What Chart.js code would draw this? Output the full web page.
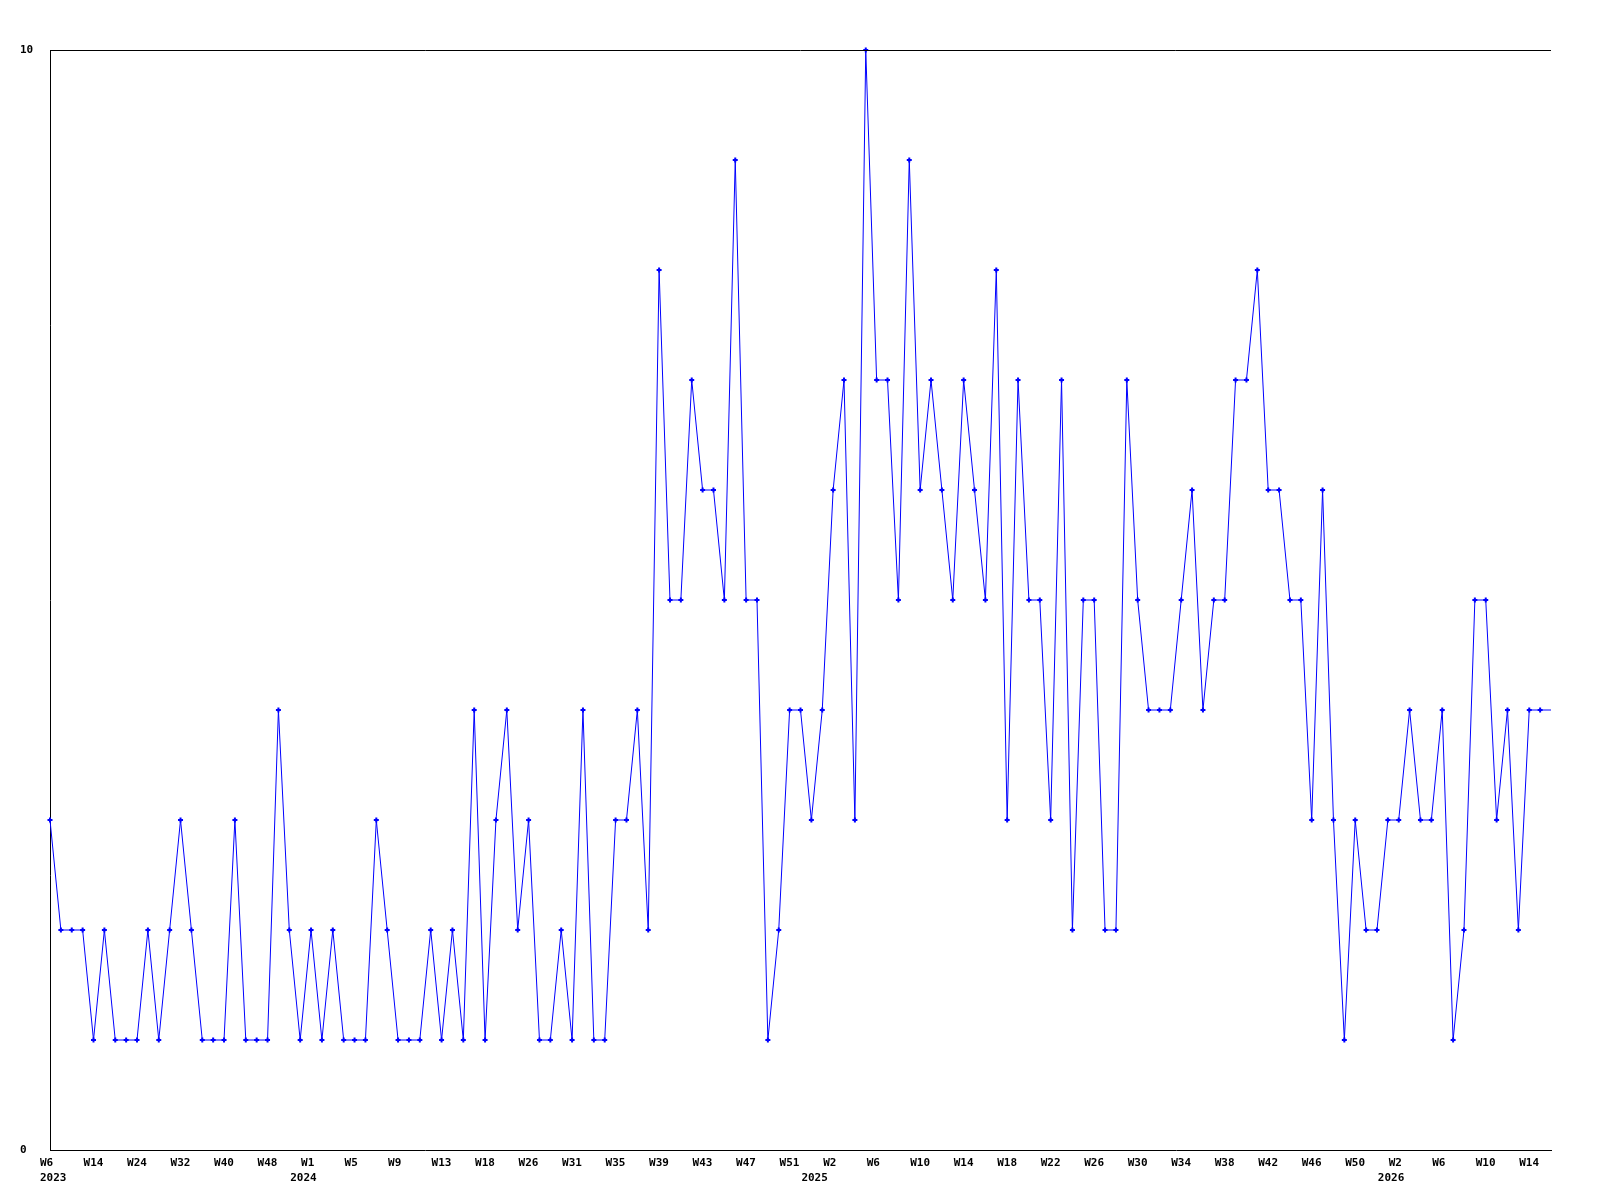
<!DOCTYPE html>
<html>
<head>
<meta charset="utf-8">
<title>Weekly count</title>
<script src="https://cdn.jsdelivr.net/npm/chart.js@4.4.1/dist/chart.umd.min.js"></script>
<style>
  html, body { margin: 0; padding: 0; background: #ffffff; }
  #weeklyChart { display: block; }
</style>
</head>
<body>
<canvas id="weeklyChart" width="1600" height="1200"></canvas>
<script>
// ========== DATA ==========
// week numbers that have a value, one list per year
const weeks2023 = [6, 8, 10, 12, 14, 16, 19, 21, 24, 26, 28, 30, 32, 34, 36, 38, 40, 42, 44, 46, 48, 50, 52];
const weeks2024 = [0, 1, 2, 3, 4, 5, 6, 7, 8, 9, 10, 11, 12, 13, 14, 15, 16, 18, 20, 22, 24, 26, 27, 28, 30,
  31, 32, 33, 34, 35, 36, 37, 38, 39, 40, 41, 42, 43, 44, 45, 46, 47, 48, 49, 50, 51, 52];
const weeks2025 = [0, 1, 2, 3, 4, 5, 6, 7, 8, 9, 10, 11, 12, 13, 14, 15, 16, 17, 18, 19, 20, 21, 22, 23, 24, 25, 26,
  27, 28, 29, 30, 31, 32, 33, 34, 35, 36, 37, 38, 39, 40, 41, 42, 43, 44, 45, 46, 47, 48, 49, 50, 51, 52];
const weeks2026 = [1, 2, 3, 4, 5, 6, 7, 8, 9, 10, 11, 12, 13, 14, 15, 16];

const weeklyCounts = [
  3, 2, 2, 2, 1, 2, 1, 1, 1, 2,
  1, 2, 3, 2, 1, 1, 1, 3, 1, 1,
  1, 4, 2, 1, 2, 1, 2, 1, 1, 1,
  3, 2, 1, 1, 1, 2, 1, 2, 1, 4,
  1, 3, 4, 2, 3, 1, 1, 2, 1, 4,
  1, 1, 3, 3, 4, 2, 8, 5, 5, 7,
  6, 6, 5, 9, 5, 5, 1, 2, 4, 4,
  3, 4, 6, 7, 3, 10, 7, 7, 5, 9,
  6, 7, 6, 5, 7, 6, 5, 8, 3, 7,
  5, 5, 3, 7, 2, 5, 5, 2, 2, 7,
  5, 4, 4, 4, 5, 6, 4, 5, 5, 7,
  7, 8, 6, 6, 5, 5, 3, 6, 3, 1,
  3, 2, 2, 3, 3, 4, 3, 3, 4, 1,
  2, 5, 5, 3, 4, 2, 4, 4, 4
];

const yMin = 0;
const yMax = 10;
const labelEvery = 4;

// ========== LABELS ==========
const weekYears = [
  ...weeks2023.map(() => "2023"),
  ...weeks2024.map(() => "2024"),
  ...weeks2025.map(() => "2025"),
  ...weeks2026.map(() => "2026"),
];
const weekLabels = [...weeks2023, ...weeks2024, ...weeks2025, ...weeks2026].map((w) => `W${w}`);

const tickFont = {
  family: "'DejaVu Sans Mono', 'Liberation Mono', monospace",
  size: 11,
  weight: "bold",
  lineHeight: 1,
};

const weekTick = (index) => (index % labelEvery === 0 ? weekLabels[index] : "");
const yearTick = (index) =>
  index === 0 || weekYears[index] !== weekYears[index - 1] ? weekYears[index] : "";

// top frame line
const topFrame = {
  id: "topFrame",
  afterDraw(chart) {
    const { ctx, chartArea } = chart;
    ctx.save();
    ctx.strokeStyle = "#000000";
    ctx.lineWidth = 1;
    ctx.beginPath();
    ctx.moveTo(chartArea.left, chartArea.top + 0.5);
    ctx.lineTo(chartArea.right, chartArea.top + 0.5);
    ctx.stroke();
    ctx.restore();
  },
};

// ========== CHART ==========
const lastIndex = weeklyCounts.length - 1;

new Chart(document.getElementById("weeklyChart"), {
  type: "line",
  data: {
    labels: weekLabels,
    datasets: [
      {
        data: weeklyCounts,
        xAxisID: "x",
        yAxisID: "y",
        borderColor: "#0000ff",
        backgroundColor: "#0000ff",
        borderWidth: 1,
        tension: 0,
        pointStyle: "cross",
        pointRadius: (ctx) => (ctx.dataIndex === lastIndex ? 0 : 2.5),
        pointBorderWidth: 2,
        pointBorderColor: "#0000ff",
        clip: false,
      },
    ],
  },
  options: {
    responsive: false,
    animation: false,
    devicePixelRatio: 1,
    layout: { padding: { left: 20, right: 49, top: 50, bottom: 0 } },
    plugins: {
      legend: { display: false },
      tooltip: { enabled: false },
    },
    scales: {
      x: {
        type: "category",
        position: "bottom",
        offset: false,
        grid: { display: false, drawTicks: false },
        border: { display: true, color: "#000000", width: 1 },
        ticks: {
          autoSkip: false,
          maxRotation: 0,
          minRotation: 0,
          align: "start",
          labelOffset: -10,
          padding: 8,
          color: "#000000",
          font: tickFont,
          callback: (value, index) => weekTick(index),
        },
        afterFit: (scale) => {
          scale.height = 20;
        },
      },
      years: {
        type: "category",
        position: "bottom",
        labels: weekYears,
        offset: false,
        grid: { display: false, drawTicks: false },
        border: { display: false },
        ticks: {
          autoSkip: false,
          maxRotation: 0,
          minRotation: 0,
          align: "start",
          labelOffset: -10,
          padding: 3,
          color: "#000000",
          font: tickFont,
          callback: (value, index) => yearTick(index),
        },
        afterFit: (scale) => {
          scale.height = 30;
        },
      },
      y: {
        min: yMin,
        max: yMax,
        grid: { display: false, drawTicks: false },
        border: { display: true, color: "#000000", width: 1 },
        ticks: {
          stepSize: yMax - yMin,
          crossAlign: "far",
          color: "#000000",
          font: tickFont,
        },
        afterFit: (scale) => {
          scale.width = 30;
        },
      },
    },
  },
  plugins: [topFrame],
});
</script>
</body>
</html>
